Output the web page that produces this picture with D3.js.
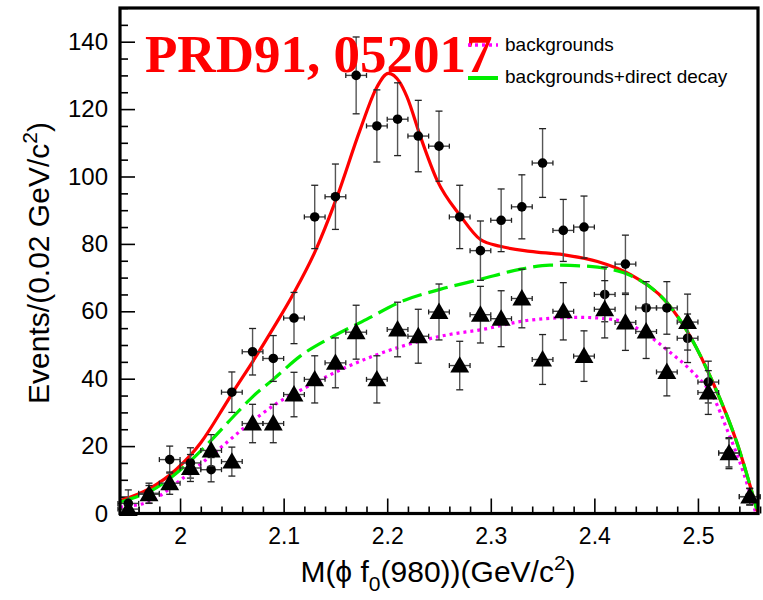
<!DOCTYPE html>
<html>
<head>
<meta charset="utf-8">
<script src="https://cdn.jsdelivr.net/npm/d3@7"></script>
<style>
  body { margin: 0; background: #fff; }
  svg { display: block; }
</style>
</head>
<body>
<svg id="chart" width="763" height="600"></svg>
<script>
// bin centres (GeV/c^2)
const massBins = [1.95, 1.97, 1.99, 2.01, 2.03, 2.05, 2.07, 2.09, 2.11, 2.13, 2.15,
  2.17, 2.19, 2.21, 2.23, 2.25, 2.27, 2.29, 2.31, 2.33, 2.35, 2.37, 2.39, 2.41,
  2.43, 2.45, 2.47, 2.49, 2.51, 2.53, 2.55];

// data (dots)
const dataEvents = [3, 6, 16, 15, 13, 36, 48, 46, 58, 88, 94, 130, 115, 117, 112, 109,
  88, 78, 87, 91, 104, 84, 85, 65, 74, 61, 61, 52, 39, 18, 5];
const dataErr = [4, 3, 4, 4.5, 3.6, 6, 6.9, 6.8, 7.6, 9.4, 9.7, 11.4, 10.7, 10.8, 10.6, 10.4,
  9.4, 8.8, 9.3, 9.5, 10.2, 9.2, 9.2, 8.1, 8.6, 7.8, 7.8, 7.2, 6.2, 4.2, 2.4];

// sideband backgrounds (triangles)
const bkgEvents = [1.3, 5.7, 9, 13.5, 18.7, 15.4, 26.7, 26.7, 35.3, 39.8, 44.7, 53.8, 39.8,
  54.6, 52.6, 59.8, 43.9, 59, 57.8, 63.8, 45.7, 60, 46.7, 60.6, 56.7, 54, 42, 56.8, 35.9, 17.9, 5];
const bkgErr = [1.2, 2.6, 3.3, 4, 4.7, 4.3, 5.7, 5.7, 6.6, 7, 7.4, 8, 7, 8.1, 8, 8.3, 7.2,
  8.4, 8.3, 8.7, 7.4, 8.5, 7.5, 8.5, 8.3, 8, 7.1, 8.3, 6.5, 4.6, 2.5];

// fit curves
const fitMass = [1.942, 1.97, 1.996, 2.02, 2.042, 2.05, 2.07, 2.09, 2.11, 2.13, 2.151, 2.174,
  2.19, 2.201, 2.212, 2.219, 2.232, 2.248, 2.271, 2.29, 2.309, 2.338, 2.37, 2.403, 2.435,
  2.47, 2.493, 2.515, 2.538, 2.558];
const fitTotal = [3.8, 7.3, 13, 21, 31.5, 35.5, 45, 55, 65.5, 77.5, 93.5, 114,
  126.5, 130.6, 128, 123.7, 111.9, 99, 88.2, 81.3, 79.3, 77.8, 76.8, 74.8, 70.9,
  62.6, 52.3, 38.5, 20.7, 0];

const directMass = [1.942, 1.977, 2.006, 2.029, 2.055, 2.071, 2.09, 2.116, 2.148, 2.18, 2.213,
  2.251, 2.29, 2.329, 2.357, 2.386, 2.415, 2.435, 2.47, 2.493, 2.515, 2.538, 2.558];
const directTotal = [3.4, 7.6, 14.5, 21.4, 29.9, 34.9, 39.8, 46.7, 52.6, 57.6, 62.8,
  66.5, 69.5, 72.5, 73.7, 73.5, 72.5, 70.6, 62.6, 52.3, 38.5, 20.7, 0];

const bkgMass = [1.942, 1.969, 2.002, 2.024, 2.039, 2.061, 2.093, 2.122, 2.161, 2.213, 2.258,
  2.29, 2.338, 2.386, 2.422, 2.444, 2.47, 2.496, 2.515, 2.528, 2.544, 2.556];
const bkgCurve = [1.9, 3.4, 10.3, 15.7, 19.5, 25.2, 32.6, 37.5, 43.5, 49.5, 53,
  54.5, 57.4, 58.2, 57.4, 54.5, 48.6, 41.6, 34.5, 25, 12.1, 0];

const yTicks = [0, 20, 40, 60, 80, 100, 120, 140];
const xTicks = [2, 2.1, 2.2, 2.3, 2.4, 2.5];
const xTickLabels = ["2", "2.1", "2.2", "2.3", "2.4", "2.5"];

const legendLabels = ["backgrounds", "backgrounds+direct decay"];

const svg = d3.select("#chart");
const frame = { left: 120, right: 758, top: 8, bottom: 513.5 };
const sans = "'Liberation Sans', Arial, Helvetica, sans-serif";

const x = d3.scaleLinear().domain([1.942, 2.558]).range([frame.left, frame.right]);
const y = d3.scaleLinear().domain([0, 150]).range([frame.bottom, frame.top]);

svg.append("defs").append("clipPath").attr("id", "plot")
  .append("rect")
  .attr("x", frame.left).attr("y", frame.top)
  .attr("width", frame.right - frame.left).attr("height", frame.bottom - frame.top);

// minor + major ticks (inward)
const yMinor = d3.range(0, 151, 5).filter((d) => d % 20 !== 0);
const xMinor = d3.range(1.96, 2.56, 0.02).filter((d) => Math.abs(d * 10 - Math.round(d * 10)) > 0.01);

const tickStyle = (g) => {
  g.select(".domain").remove();
  g.selectAll("line").attr("stroke", "#000").attr("stroke-width", 1.6);
};

svg.append("g")
  .attr("transform", `translate(${frame.left},0)`)
  .call(d3.axisLeft(y).tickValues(yMinor).tickSize(-8).tickFormat(""))
  .call(tickStyle);

svg.append("g")
  .attr("transform", `translate(${frame.left},0)`)
  .call(d3.axisLeft(y).tickValues(yTicks).tickSize(-15).tickPadding(12))
  .call(tickStyle)
  .selectAll("text")
  .style("font-family", sans)
  .style("font-size", "24px")
  .attr("fill", "#000");

svg.append("g")
  .attr("transform", `translate(0,${frame.bottom})`)
  .call(d3.axisBottom(x).tickValues(xMinor).tickSize(-7).tickFormat(""))
  .call(tickStyle);

svg.append("g")
  .attr("transform", `translate(0,${frame.bottom})`)
  .call(d3.axisBottom(x).tickValues(xTicks).tickSize(-15).tickPadding(14)
    .tickFormat((d, i) => xTickLabels[i]))
  .call(tickStyle)
  .selectAll("text")
  .style("font-family", sans)
  .style("font-size", "23px")
  .attr("fill", "#000");

// curves
const plot = svg.append("g").attr("clip-path", "url(#plot)");

const curve = (xs, ys) =>
  d3.line().x((d, i) => x(xs[i])).y((d, i) => y(ys[i])).curve(d3.curveMonotoneX)(ys);

plot.append("path")
  .attr("d", curve(bkgMass, bkgCurve))
  .attr("fill", "none")
  .attr("stroke", "#ff00ff")
  .attr("stroke-width", 3.2)
  .attr("stroke-dasharray", "3,4");

plot.append("path")
  .attr("d", curve(fitMass, fitTotal))
  .attr("fill", "none")
  .attr("stroke", "#ff0000")
  .attr("stroke-width", 3.2);

plot.append("path")
  .attr("d", curve(directMass, directTotal))
  .attr("fill", "none")
  .attr("stroke", "#00ee00")
  .attr("stroke-width", 3.2)
  .attr("stroke-dasharray", "20,7");

// error bars + markers
const drawPoints = (vals, errs, cls) => {
  const rows = massBins.map((m, i) => ({ m: m, v: vals[i], e: errs[i] }));
  const g = svg.append("g").attr("class", cls);
  const pts = g.selectAll("g").data(rows).enter().append("g");
  pts.append("line")
    .attr("x1", (d) => x(d.m)).attr("x2", (d) => x(d.m))
    .attr("y1", (d) => y(Math.max(0, d.v - d.e)))
    .attr("y2", (d) => y(d.v + d.e))
    .attr("stroke", "#555").attr("stroke-width", 1.4);
  pts.append("line")
    .attr("x1", (d) => x(d.m - 0.01)).attr("x2", (d) => x(d.m + 0.01))
    .attr("y1", (d) => y(d.v)).attr("y2", (d) => y(d.v))
    .attr("stroke", "#444").attr("stroke-width", 1.4);
  // caps
  [1, -1].forEach((s) => {
    pts.filter((d) => s > 0 || d.v - d.e > 0).append("line")
      .attr("x1", (d) => x(d.m) - 3.5).attr("x2", (d) => x(d.m) + 3.5)
      .attr("y1", (d) => y(d.v + s * d.e))
      .attr("y2", (d) => y(d.v + s * d.e))
      .attr("stroke", "#222").attr("stroke-width", 1.3);
    pts.append("line")
      .attr("x1", (d) => x(d.m + s * 0.01)).attr("x2", (d) => x(d.m + s * 0.01))
      .attr("y1", (d) => y(d.v) - 2.5).attr("y2", (d) => y(d.v) + 2.5)
      .attr("stroke", "#222").attr("stroke-width", 1.3);
  });
  return pts;
};

drawPoints(dataEvents, dataErr, "data")
  .append("circle")
  .attr("cx", (d) => x(d.m))
  .attr("cy", (d) => y(d.v))
  .attr("r", 4.8)
  .attr("fill", "#000");

drawPoints(bkgEvents, bkgErr, "bkg")
  .append("path")
  .attr("d", d3.symbol(d3.symbolTriangle, 155))
  .attr("transform", (d) => `translate(${x(d.m)},${y(d.v) + 1.5})`)
  .attr("fill", "#000");

// frame
svg.append("rect")
  .attr("x", frame.left).attr("y", frame.top)
  .attr("width", frame.right - frame.left).attr("height", frame.bottom - frame.top)
  .attr("fill", "none")
  .attr("stroke", "#000")
  .attr("stroke-width", 3.2);

// axis titles
const xTitle = svg.append("text")
  .attr("x", 438).attr("y", 582)
  .attr("text-anchor", "middle")
  .style("font-family", sans)
  .style("font-size", "30px")
  .attr("fill", "#000");
xTitle.append("tspan").text("M(\u03D5 f");
xTitle.append("tspan").attr("dy", 9).style("font-size", "21px").text("0");
xTitle.append("tspan").attr("dy", -9).text("(980))(GeV/c");
xTitle.append("tspan").attr("dy", -12).style("font-size", "21px").text("2");
xTitle.append("tspan").attr("dy", 12).text(")");

const yTitle = svg.append("text")
  .attr("transform", "translate(49,263) rotate(-90)")
  .attr("text-anchor", "middle")
  .style("font-family", sans)
  .style("font-size", "30px")
  .attr("fill", "#000");
yTitle.append("tspan").text("Events/(0.02 GeV/c");
yTitle.append("tspan").attr("dy", -12).style("font-size", "21px").text("2");
yTitle.append("tspan").attr("dy", 12).text(")");

// reference label
svg.append("text")
  .attr("x", 145).attr("y", 72)
  .style("font-family", "'Liberation Serif', 'Times New Roman', serif")
  .style("font-weight", "bold")
  .style("font-size", "53px")
  .attr("fill", "#ff0000")
  .text("PRD91, 052017");

// legend
const legend = svg.append("g");
legend.append("line")
  .attr("x1", 468).attr("x2", 498).attr("y1", 45).attr("y2", 45)
  .attr("stroke", "#ff00ff").attr("stroke-width", 3.5).attr("stroke-dasharray", "3,4");
legend.append("line")
  .attr("x1", 468).attr("x2", 498).attr("y1", 78).attr("y2", 78)
  .attr("stroke", "#00ee00").attr("stroke-width", 4);
legend.selectAll(".lt")
  .data(legendLabels)
  .enter()
  .append("text")
  .attr("class", "lt")
  .attr("x", 505)
  .attr("y", (d, i) => 51 + i * 32)
  .style("font-family", sans)
  .style("font-size", "19px")
  .attr("fill", "#000")
  .text((d) => d);
</script>
</body>
</html>
